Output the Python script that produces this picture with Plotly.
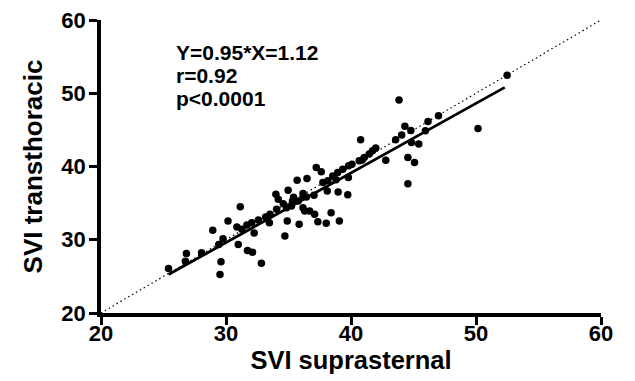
import plotly.graph_objects as go

svi_suprasternal = [52.49, 43.84, 50.16, 47.0, 46.16, 44.31, 44.79, 45.95, 44.05, 43.57,
                    44.84, 45.42, 40.77, 44.55, 45.08, 44.55, 42.78, 41.98, 41.72, 41.46,
                    41.06, 40.66, 40.08, 39.81, 39.34, 38.94, 39.79, 38.54, 38.15, 37.75,
                    37.22, 37.62, 38.1, 38.97, 39.74, 37.04, 36.48, 35.69, 36.16, 36.43,
                    35.77, 34.97, 33.99, 34.18, 34.58, 34.84, 35.24, 35.32, 36.16, 36.3,
                    36.69, 37.09, 37.35, 38.02, 38.41, 39.07, 35.85, 34.9, 34.71, 34.05,
                    33.52, 33.47, 33.17, 32.59, 32.06, 31.67, 31.27, 30.87, 32.25, 31.14,
                    30.16, 28.94, 29.76, 30.98, 31.72, 32.12, 32.83, 29.6, 29.52, 28.04,
                    26.83, 26.75, 25.4, 29.42, 35.4, 38.8, 40.9, 36.2]
svi_transthoracic = [52.47, 49.09, 45.2, 46.94, 46.16, 45.48, 44.93, 44.89, 44.29, 43.65,
                     43.29, 43.06, 43.65, 41.23, 40.55, 37.63, 40.87, 42.51, 42.15, 41.69,
                     41.23, 40.78, 40.32, 40.09, 39.63, 39.18, 38.49, 38.72, 38.04, 37.81,
                     39.86, 39.27, 36.67, 36.53, 36.16, 36.07, 38.36, 38.13, 36.3, 35.85,
                     35.3, 36.76, 36.21, 35.53, 34.93, 34.38, 34.61, 35.3, 34.38, 33.93,
                     33.93, 33.47, 32.47, 32.24, 33.7, 32.56, 32.1, 32.56, 30.5, 34.15,
                     33.47, 32.33, 33.1, 32.69, 32.33, 32.01, 31.42, 31.74, 30.91, 34.52,
                     32.56, 31.28, 30.14, 29.36, 28.54, 28.31, 26.8, 26.99, 25.25, 28.22,
                     28.13, 27.08, 26.07, 29.36, 35.8, 38.2, 40.9, 35.9]

identity_x = [20, 60]
identity_y = [20, 60]
slope = 0.95
intercept = 1.12
fit_x = [25.4, 52.3]
fit_y = [slope * v + intercept for v in fit_x]

tick_vals = [20, 30, 40, 50, 60]
tick_labels = ["20", "30", "40", "50", "60"]
stats_lines = ["Y=0.95*X=1.12", "r=0.92", "p<0.0001"]

FONT = "Liberation Sans, Arial, sans-serif"

fig = go.Figure()
fig.add_trace(go.Scatter(x=identity_x, y=identity_y, mode="lines",
                         line=dict(color="black", width=1.2, dash="1.5px,3px"), hoverinfo="skip"))
fig.add_trace(go.Scatter(x=fit_x, y=fit_y, mode="lines",
                         line=dict(color="black", width=2.8)))
fig.add_trace(go.Scatter(x=svi_suprasternal, y=svi_transthoracic, mode="markers",
                         marker=dict(color="black", size=7.5)))

for i, t in enumerate(stats_lines):
    fig.add_annotation(x=25.85, y=55.6 - i * 3.15, xref="x", yref="y", text=t,
                       showarrow=False, xanchor="left", yanchor="middle",
                       font=dict(family=FONT, size=21, color="black", weight="bold"))


def axis_cfg(title, standoff, tsize, label_standoff):
    return dict(range=[20, 60], tickmode="array", tickvals=tick_vals,
                ticktext=tick_labels,
                showline=True, linecolor="black", linewidth=3.5,
                ticks="outside", ticklen=8, tickwidth=3, tickcolor="black",
                showgrid=False, zeroline=False, automargin=False,
                ticklabeloverflow="allow", ticklabelstandoff=label_standoff,
                tickfont=dict(family=FONT, size=22, color="black", weight="bold"),
                title=dict(text=title, standoff=standoff,
                           font=dict(family=FONT, size=tsize, color="black", weight="bold")))


fig.update_layout(
    width=635, height=381, showlegend=False,
    paper_bgcolor="white", plot_bgcolor="white",
    font=dict(family=FONT, size=22, color="black", weight="bold"),
    margin=dict(l=93, r=42, t=12, b=76),
    xaxis=axis_cfg("SVI suprasternal", 0, 25.5, -10),
    yaxis=axis_cfg("SVI transthoracic", 12, 26, -1),
)

fig.write_html("out.html")
